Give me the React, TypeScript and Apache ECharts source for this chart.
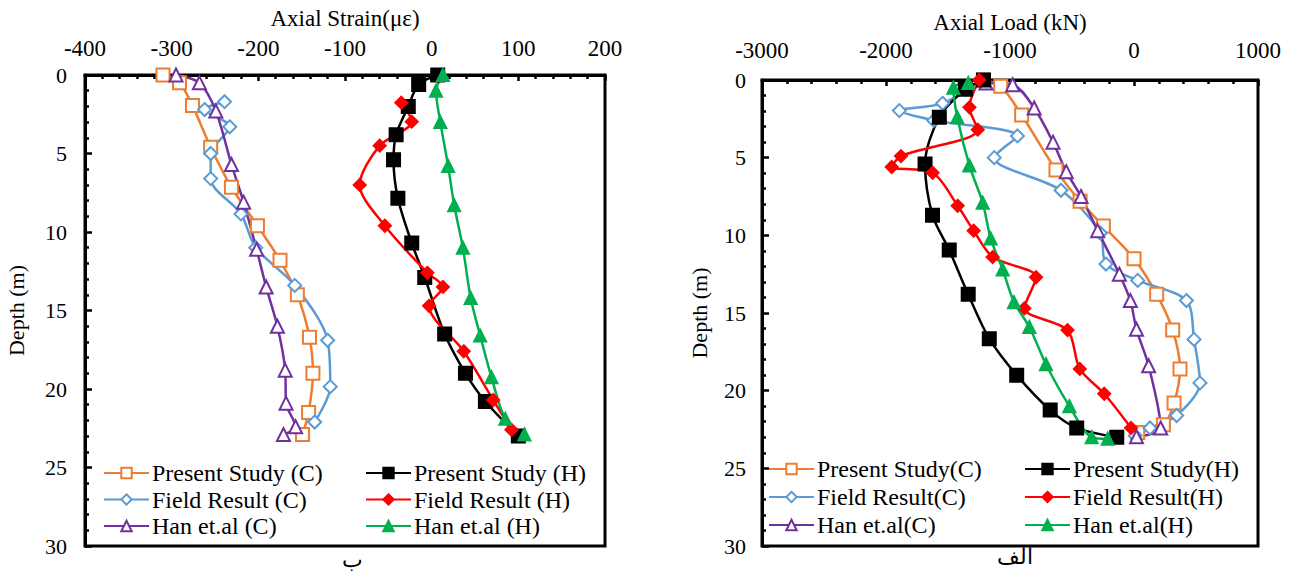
import React, { useEffect, useRef } from "react";
import * as echarts from "echarts";

// ---------- Data (x value, depth in m) ----------
// Left chart: Axial Strain (με)
const psC_L = [[-310,0],[-291,0.5],[-276,1.95],[-255,4.6],[-231,7.15],[-201,9.6],[-175,11.8],[-155,14.0],[-141,16.7],[-137,19.0],[-142,21.5],[-149,22.9]];
const frC_L = [[-239,1.7],[-262,2.2],[-233,3.3],[-255,5.0],[-255,6.6],[-220,8.85],[-203,11.0],[-158,13.4],[-120,16.9],[-117,19.85],[-135,22.1]];
const hanC_L = [[-295,0],[-268,0.5],[-249,2.3],[-231,5.7],[-217,8.1],[-202,11.1],[-191,13.5],[-178,16.0],[-169,18.8],[-168,20.9],[-157,22.4],[-171,22.9]];
const psH_L = [[7,0],[-15,0.6],[-27,2.0],[-41,3.8],[-44,5.4],[-39,7.85],[-23,10.7],[-8,12.9],[15,16.5],[39,19.0],[62,20.8],[100,23.0]];
const frH_L = [[-35,1.76],[-23,2.97],[-60,4.5],[-83,7.0],[-54,9.6],[-5,12.6],[13,13.5],[-3,14.7],[37,17.6],[71,20.7],[92,22.6]];
const hanH_L = [[13,0],[5,1.0],[10,3.0],[19,5.8],[26,8.3],[36,11.0],[45,14.2],[56,16.6],[69,19.25],[85,21.9],[107,22.9]];

// Right chart: Axial Load (kN)
const psC_R = [[-1214,0],[-1075,0.4],[-906,2.25],[-629,5.8],[-435,7.8],[-247,9.4],[0,11.5],[183,13.8],[312,16.1],[371,18.6],[323,20.8],[237,22.2],[30,22.7]];
const frC_R = [[-1234,0],[-1543,1.5],[-1892,1.97],[-1615,2.6],[-940,3.6],[-1127,5.0],[-589,7.1],[-272,9.85],[-226,11.85],[30,12.9],[423,14.2],[484,16.7],[532,19.5],[344,21.6],[129,22.4],[10,22.9]];
const hanC_R = [[-1194,0.2],[-978,0.3],[-805,1.8],[-653,4.0],[-546,5.9],[-427,7.5],[-293,9.7],[-118,12.5],[-29,14.2],[20,16.05],[118,18.4],[215,22.4],[20,22.97]];
const psH_R = [[-1214,0],[-1360,0.6],[-1570,2.4],[-1685,5.4],[-1625,8.7],[-1490,10.95],[-1337,13.8],[-1167,16.65],[-946,19.0],[-676,21.25],[-462,22.4],[-139,23.0]];
const frH_R = [[-1248,0],[-1327,1.76],[-1260,3.2],[-1879,4.9],[-1954,5.6],[-1624,5.97],[-1422,8.1],[-1293,9.7],[-1140,11.4],[-790,12.7],[-884,14.7],[-536,16.1],[-437,18.6],[-240,20.2],[-24,22.4]];
const hanH_R = [[-1336,0.2],[-1457,0.5],[-1425,2.4],[-1328,5.5],[-1220,7.9],[-1156,10.2],[-1059,12.2],[-968,14.3],[-844,15.9],[-710,18.3],[-521,21.0],[-341,23.0],[-212,23.1]];

const leftNames = ["Present Study (C)", "Field Result (C)", "Han et.al (C)", "Present Study (H)", "Field Result (H)", "Han et.al (H)"];
const rightNames = ["Present Study(C)", "Field Result(C)", "Han et.al(C)", "Present Study(H)", "Field Result(H)", "Han et.al(H)"];

const xTitleL = "Axial Strain(με)";
const xTitleR = "Axial Load (kN)";
const yTitle = "Depth (m)";
const captionL = "ب";
const captionR = "الف";

const FONT = "'Liberation Serif', 'Times New Roman', serif";

type Style = { color: string; symbol: string; size: number; smooth: number };
const styles: Style[] = [
  { color: "#ED7D31", symbol: "emptyRect", size: 13, smooth: 0.3 },
  { color: "#5B9BD5", symbol: "emptyDiamond", size: 13, smooth: 0.3 },
  { color: "#7030A0", symbol: "emptyTriangle", size: 13, smooth: 0.3 },
  { color: "#000000", symbol: "rect", size: 13, smooth: 0.3 },
  { color: "#FF0000", symbol: "diamond", size: 12, smooth: 0.3 },
  { color: "#00B050", symbol: "triangle", size: 12, smooth: 0.3 },
];

function mkSeries(name: string, data: number[][], st: Style, idx: number) {
  return {
    name,
    type: "line",
    xAxisIndex: idx,
    yAxisIndex: idx,
    data,
    smooth: st.smooth,
    symbol: st.symbol,
    symbolSize: st.size,
    showAllSymbol: true,
    lineStyle: { color: st.color, width: 2.5 },
    itemStyle: { color: st.color, borderColor: st.color, borderWidth: 2 },
    emphasis: { disabled: true },
    z: 3,
  };
}

function xAxis(idx: number, min: number, max: number, interval: number, name: string, margin: number) {
  return {
    gridIndex: idx,
    type: "value",
    position: "top",
    min,
    max,
    interval,
    name,
    nameLocation: "middle",
    nameGap: 45,
    nameTextStyle: { fontFamily: FONT, fontSize: 23, color: "#000" },
    axisLine: { show: true, onZero: false, lineStyle: { color: "#000", width: 3 } },
    axisTick: { show: true, inside: true, length: 6, lineStyle: { color: "#000", width: 2.5 } },
    minorTick: { show: true, splitNumber: 5, length: 4, lineStyle: { color: "#000", width: 2.5 } },
    axisLabel: { fontFamily: FONT, fontSize: 23, color: "#000", margin, formatter: (v: number) => String(v) },
    splitLine: { show: false },
    minorSplitLine: { show: false },
  };
}

function yAxis(idx: number, gap: number, margin: number) {
  return {
    gridIndex: idx,
    type: "value",
    inverse: true,
    min: 0,
    max: 30,
    interval: 5,
    name: yTitle,
    nameLocation: "middle",
    nameGap: gap,
    nameTextStyle: { fontFamily: FONT, fontSize: 22, color: "#000" },
    axisLine: { show: true, onZero: false, lineStyle: { color: "#000", width: 3 } },
    axisTick: { show: true, inside: true, length: 7, lineStyle: { color: "#000", width: 2.5 } },
    minorTick: { show: true, splitNumber: 5, length: 4, lineStyle: { color: "#000", width: 2.5 } },
    axisLabel: { fontFamily: FONT, fontSize: 22, color: "#000", margin, formatter: (v: number) => String(v) },
    splitLine: { show: false },
    minorSplitLine: { show: false },
  };
}

function legend(names: string[], left: number, top: number, gap: number) {
  return {
    data: names,
    orient: "vertical",
    left,
    top,
    itemWidth: 45,
    itemHeight: 13,
    itemGap: gap,
    selectedMode: false,
    textStyle: { fontFamily: FONT, fontSize: 24, color: "#000", lineHeight: 24, padding: [0, 0, 0, -2] },
    padding: 0,
  };
}

export default function App() {
  const ref = useRef<HTMLDivElement>(null);
  useEffect(() => {
    if (!ref.current) return;
    const chart = echarts.init(ref.current, undefined, { renderer: "svg" });
    const leftData = [psC_L, frC_L, hanC_L, psH_L, frH_L, hanH_L];
    const rightData = [psC_R, frC_R, hanC_R, psH_R, frH_R, hanH_R];
    const series: any[] = [];
    leftData.forEach((d, i) => series.push(mkSeries(leftNames[i], d, styles[i], 0)));
    rightData.forEach((d, i) => series.push(mkSeries(rightNames[i], d, styles[i], 1)));
    chart.setOption({
      animation: false,
      backgroundColor: "#fff",
      grid: [
        { left: 85, top: 75, width: 520, height: 471, show: true, borderColor: "#000", borderWidth: 3, backgroundColor: "transparent" },
        { left: 762, top: 80, width: 496, height: 466, show: true, borderColor: "#000", borderWidth: 3, backgroundColor: "transparent" },
      ],
      xAxis: [xAxis(0, -400, 200, 100, xTitleL, 15), xAxis(1, -3000, 1000, 1000, xTitleR, 18)],
      yAxis: [yAxis(0, 58, 18), yAxis(1, 52, 16)],
      legend: [
        legend(leftNames.slice(0, 3), 103, 461, 2.5),
        legend(leftNames.slice(3), 365, 461, 2.5),
        legend(rightNames.slice(0, 3), 768, 457, 4),
        legend(rightNames.slice(3), 1024, 457, 4),
      ],
      graphic: [
        { type: "text", left: 342, top: 548, style: { text: captionL, font: `22px ${FONT}`, fill: "#000" } },
        { type: "text", left: 997, top: 545, style: { text: captionR, font: `22px ${FONT}`, fill: "#000" } },
      ],
      series,
    });
    return () => chart.dispose();
  }, []);
  return <div ref={ref} style={{ position: "fixed", left: 0, top: 0, width: 1298, height: 572 }} />;
}
